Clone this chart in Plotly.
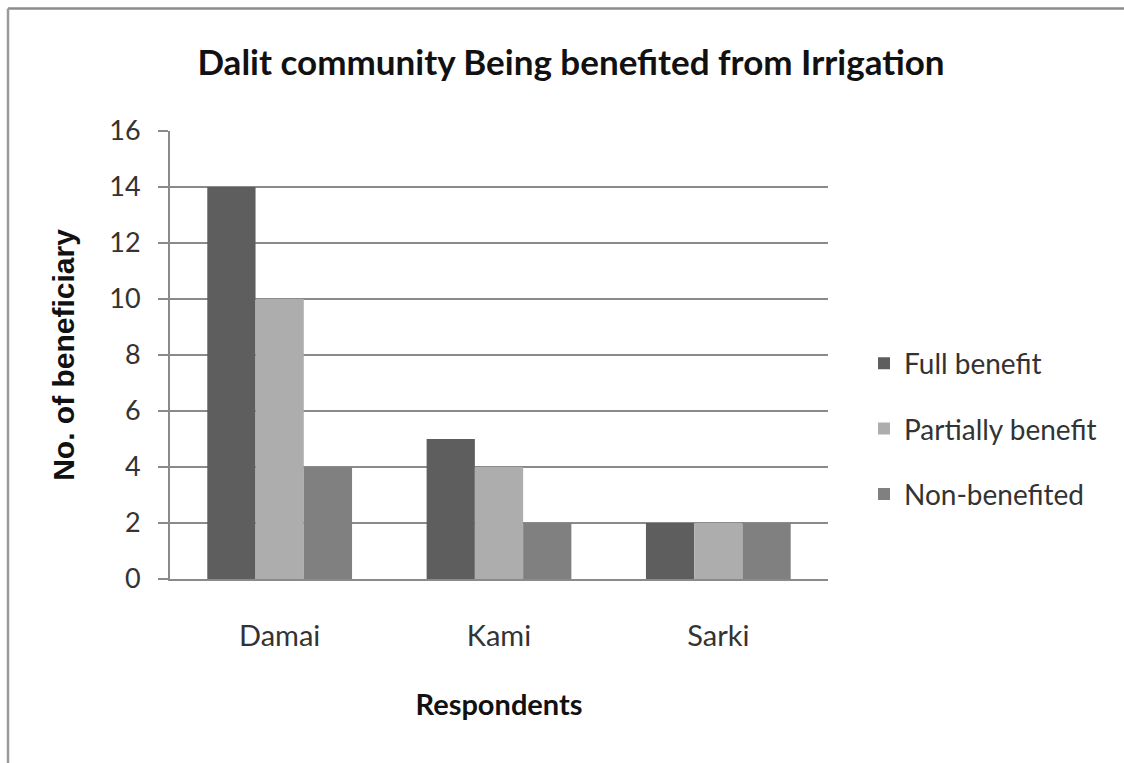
import plotly.graph_objects as go

categories = ["Damai", "Kami", "Sarki"]
full_benefit = [14, 5, 2]
partial_benefit = [10, 4, 2]
non_benefited = [4, 2, 2]
series_names = ["Full benefit", "Partially benefit", "Non-benefited"]
series_colors = ["#5e5e5e", "#adadad", "#808080"]
y_ticks = [0, 2, 4, 6, 8, 10, 12, 14, 16]

W, H = 1124, 763
L, R, T, B = 170, 1124 - 828, 131, 763 - 579
pw, ph = W - L - R, H - T - B

fig = go.Figure()
for i, (name, vals, col) in enumerate(zip(series_names, [full_benefit, partial_benefit, non_benefited], series_colors)):
    fig.add_trace(go.Bar(
        x=categories, y=vals, name=name, marker_color=col,
        marker_line_width=0, legendgroup=f"g{i}",
    ))

def px_x(p):
    return (p - L) / pw

def px_y(p):
    return (H - B - p) / ph

# outer chart border (top and left edges visible)
fig.add_shape(type="line", xref="paper", yref="paper",
              x0=px_x(8), x1=px_x(1130), y0=px_y(8.5), y1=px_y(8.5),
              line=dict(color="#8c8c8c", width=2.5))
fig.add_shape(type="line", xref="paper", yref="paper",
              x0=px_x(8), x1=px_x(8), y0=px_y(8.5), y1=px_y(770),
              line=dict(color="#9a9a9a", width=2.5))

fig.update_layout(
    width=W, height=H,
    margin=dict(l=L, r=R, t=T, b=B, pad=0),
    paper_bgcolor="white", plot_bgcolor="white",
    barmode="group", bargap=0.34, bargroupgap=0,
    font=dict(family="Lato", color="#3a3a3a"),
    title=dict(text="<b>Dalit community Being benefited from Irrigation</b>",
               x=571 / W, xanchor="center", y=1 - 63 / H, yanchor="middle",
               font=dict(family="Lato", size=35, color="#111111")),
    legend=dict(x=px_x(864), xanchor="left", y=px_y(429), yanchor="middle",
                font=dict(family="Lato", size=28, color="#333333"),
                tracegroupgap=26, itemwidth=30, bgcolor="rgba(0,0,0,0)"),
    xaxis=dict(showline=True, linecolor="#8a8a8a", linewidth=2,
               ticks="", tickfont=dict(size=29, color="#333333"),
               ticklabelstandoff=30,
               title=dict(text="<b>Respondents</b>", standoff=44,
                          font=dict(family="Lato", size=29, color="#111111"))),
    yaxis=dict(range=[0, 16], tickvals=y_ticks, showgrid=True, gridcolor="#8a8a8a", gridwidth=2,
               showline=True, linecolor="#8a8a8a", linewidth=2,
               ticks="outside", ticklen=10, tickcolor="#8a8a8a", tickwidth=2,
               tickfont=dict(size=27, color="#333333"), ticklabelstandoff=12,
               zeroline=False,
               title=dict(text="<b>No. of beneficiary</b>", standoff=26,
                          font=dict(family="Liberation Sans", size=30, color="#111111"))),
)

fig.write_html("out.html")
